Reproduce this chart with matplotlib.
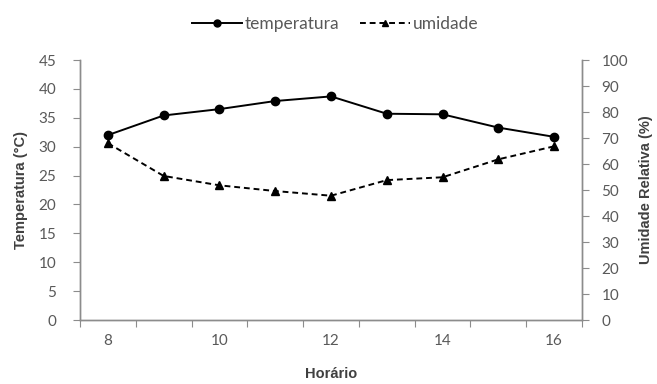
import numpy as np
import matplotlib
matplotlib.use('Agg')
from matplotlib import pyplot as plt
from matplotlib.lines import Line2D

horario = [8, 9, 10, 11, 12, 13, 14, 15, 16]
temperatura = [32.0, 35.4, 36.5, 37.9, 38.7, 35.7, 35.6, 33.3, 31.7]
umidade = [68.0, 55.4, 51.8, 49.6, 47.8, 53.8, 54.9, 61.8, 66.8]

cinza = '#595959'
eixo = '#8c8c8c'
plt.rcParams['font.family'] = ['Lato', 'DejaVu Sans']

fig = plt.figure(figsize=(6.57, 3.84), dpi=100)
ax = fig.add_axes([80/657, 1 - 320/384, 502/657, 260/384])
ax2 = ax.twinx()

x = np.arange(len(horario))
ax.plot(x, temperatura, '-o', color='black', lw=1.4, ms=6, label='temperatura')
ax2.plot(x, umidade, '--^', color='black', lw=1.4, ms=6, dashes=(3, 2), label='umidade')

ax.set_xlim(-0.5, len(horario) - 0.5)
ax.set_ylim(0, 45)
ax.set_yticks(np.arange(0, 46, 5))
ax2.set_ylim(0, 100)
ax2.set_yticks(np.arange(0, 101, 10))

# tick marks entre categorias, rotulos a cada duas
ax.set_xticks(np.arange(-0.5, len(horario), 1))
ax.set_xticklabels([])
ax.set_xticks(x[::2], minor=True)
ax.set_xticklabels([str(h) for h in horario[::2]], minor=True)
ax.tick_params(axis='x', which='major', length=5, color=eixo, direction='out')
ax.tick_params(axis='x', which='minor', length=0, pad=10, labelsize=11, labelcolor=cinza)
ax.tick_params(axis='y', length=5, color=eixo, labelsize=11, labelcolor=cinza, pad=12)
ax2.tick_params(axis='y', length=5, color=eixo, labelsize=11, labelcolor=cinza, pad=9)

for a in (ax, ax2):
    a.spines['top'].set_visible(False)
    for s in ('left', 'right', 'bottom'):
        a.spines[s].set_color(eixo)
        a.spines[s].set_linewidth(1.0)

rotulo = dict(fontsize=10.5, fontweight='bold', color='#404040', family=['Liberation Sans', 'DejaVu Sans'])
ax.set_ylabel('Temperatura (°C)', labelpad=8, **rotulo)
ax2.set_ylabel('Umidade Relativa (%)', labelpad=8, **rotulo)
ax.set_xlabel('Horário', labelpad=14, **rotulo)

h1 = Line2D([], [], color='black', lw=1.4, marker='o', ms=5)
h2 = Line2D([], [], color='black', lw=1.4, ls='--', dashes=(3, 2), marker='^', ms=5)
fig.legend([h1, h2], ['temperatura', 'umidade'], loc='center', bbox_to_anchor=(335/657, 1 - 24/384),
           ncol=2, frameon=False, fontsize=12.5, labelcolor=cinza, handlelength=2.9,
           handletextpad=0.15, columnspacing=1.2)

fig.savefig('out.png', dpi=100)
